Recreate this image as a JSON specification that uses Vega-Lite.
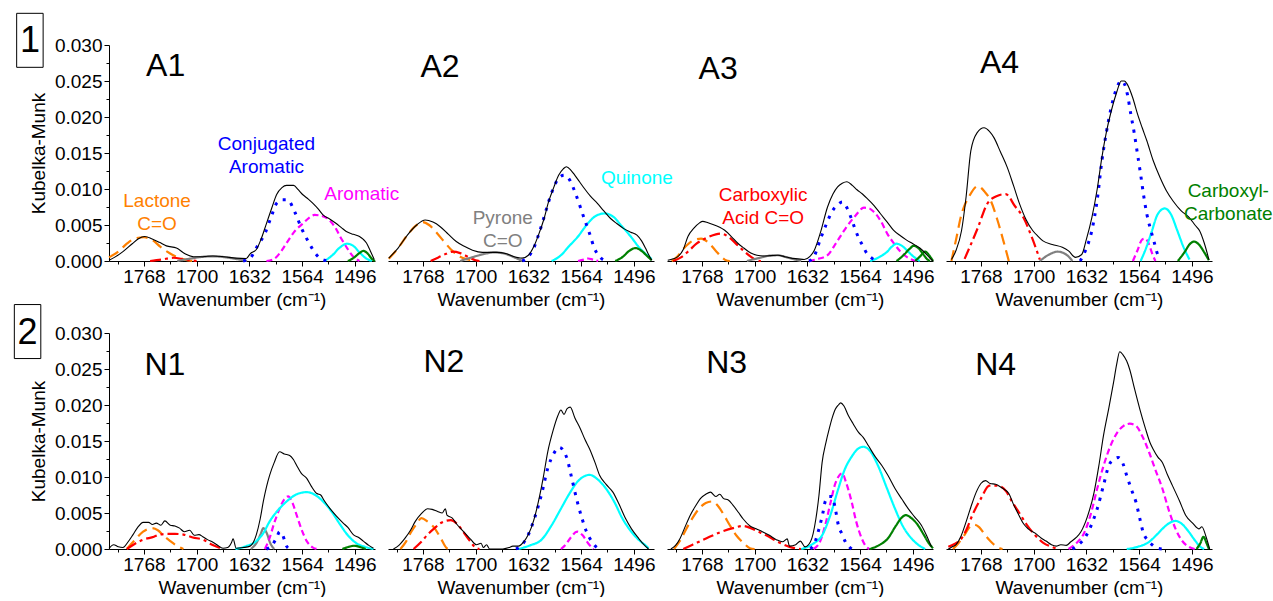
{
"$schema":"https://vega.github.io/schema/vega-lite/v6.json",
"padding":{"left":12,"top":10,"right":0,"bottom":0},
"autosize":{"type":"pad"},
"data":{"values":[
{"p":"A1","s":"k","x":1813,"y":0.0001},{"p":"A1","s":"k","x":1806,"y":0.0005},{"p":"A1","s":"k","x":1795,"y":0.0013},{"p":"A1","s":"k","x":1783,"y":0.0024},{"p":"A1","s":"k","x":1775,"y":0.0031},{"p":"A1","s":"k","x":1767,"y":0.0034},{"p":"A1","s":"k","x":1758,"y":0.0031},{"p":"A1","s":"k","x":1748,"y":0.0026},{"p":"A1","s":"k","x":1739,"y":0.0021},{"p":"A1","s":"k","x":1726,"y":0.0018},{"p":"A1","s":"k","x":1715,"y":0.001},{"p":"A1","s":"k","x":1704,"y":0.0006},{"p":"A1","s":"k","x":1692,"y":0.0006},{"p":"A1","s":"k","x":1679,"y":0.0007},{"p":"A1","s":"k","x":1665,"y":0.0006},{"p":"A1","s":"k","x":1649,"y":0.0004},{"p":"A1","s":"k","x":1636,"y":0.00035},{"p":"A1","s":"k","x":1631,"y":0.001},{"p":"A1","s":"k","x":1623,"y":0.0016},{"p":"A1","s":"k","x":1617,"y":0.003},{"p":"A1","s":"k","x":1610,"y":0.0052},{"p":"A1","s":"k","x":1603,"y":0.0074},{"p":"A1","s":"k","x":1597,"y":0.0092},{"p":"A1","s":"k","x":1590,"y":0.0102},{"p":"A1","s":"k","x":1584,"y":0.0105},{"p":"A1","s":"k","x":1575,"y":0.0105},{"p":"A1","s":"k","x":1569,"y":0.0099},{"p":"A1","s":"k","x":1563,"y":0.0092},{"p":"A1","s":"k","x":1556,"y":0.0086},{"p":"A1","s":"k","x":1550,"y":0.008},{"p":"A1","s":"k","x":1543,"y":0.0072},{"p":"A1","s":"k","x":1537,"y":0.0064},{"p":"A1","s":"k","x":1528,"y":0.0058},{"p":"A1","s":"k","x":1520,"y":0.0052},{"p":"A1","s":"k","x":1513,"y":0.0046},{"p":"A1","s":"k","x":1507,"y":0.0041},{"p":"A1","s":"k","x":1498,"y":0.0037},{"p":"A1","s":"k","x":1490,"y":0.0034},{"p":"A1","s":"k","x":1485,"y":0.003},{"p":"A1","s":"k","x":1481,"y":0.0025},{"p":"A1","s":"k","x":1476,"y":0.0014},{"p":"A1","s":"k","x":1471,"y":0.0002},
{"p":"A1","s":"o","x":1813,"y":0.0005},{"p":"A1","s":"o","x":1800,"y":0.0014},{"p":"A1","s":"o","x":1790,"y":0.0024},{"p":"A1","s":"o","x":1780,"y":0.0031},{"p":"A1","s":"o","x":1768,"y":0.0033},{"p":"A1","s":"o","x":1757,"y":0.0029},{"p":"A1","s":"o","x":1747,"y":0.002},{"p":"A1","s":"o","x":1738,"y":0.0013},{"p":"A1","s":"o","x":1732,"y":0.0009},{"p":"A1","s":"o","x":1715,"y":0.0002},{"p":"A1","s":"o","x":1705,"y":0},
{"p":"A1","s":"r","x":1760,"y":0},{"p":"A1","s":"r","x":1745,"y":0.0002},{"p":"A1","s":"r","x":1730,"y":0.00045},{"p":"A1","s":"r","x":1715,"y":0.0002},{"p":"A1","s":"r","x":1700,"y":0},
{"p":"A1","s":"y","x":1725,"y":0},{"p":"A1","s":"y","x":1710,"y":0.0003},{"p":"A1","s":"y","x":1695,"y":0.00055},{"p":"A1","s":"y","x":1680,"y":0.00065},{"p":"A1","s":"y","x":1665,"y":0.00055},{"p":"A1","s":"y","x":1650,"y":0.0003},{"p":"A1","s":"y","x":1635,"y":0},
{"p":"A1","s":"b","x":1640,"y":0},{"p":"A1","s":"b","x":1631,"y":0.0004},{"p":"A1","s":"b","x":1621,"y":0.0022},{"p":"A1","s":"b","x":1612,"y":0.0038},{"p":"A1","s":"b","x":1603,"y":0.0064},{"p":"A1","s":"b","x":1597,"y":0.008},{"p":"A1","s":"b","x":1589,"y":0.0085},{"p":"A1","s":"b","x":1583,"y":0.0085},{"p":"A1","s":"b","x":1573,"y":0.0067},{"p":"A1","s":"b","x":1565,"y":0.0046},{"p":"A1","s":"b","x":1556,"y":0.0027},{"p":"A1","s":"b","x":1545,"y":0.0008},{"p":"A1","s":"b","x":1535,"y":0.0001},{"p":"A1","s":"b","x":1525,"y":0},
{"p":"A1","s":"m","x":1610,"y":0},{"p":"A1","s":"m","x":1600,"y":0.0003},{"p":"A1","s":"m","x":1590,"y":0.0015},{"p":"A1","s":"m","x":1584,"y":0.0025},{"p":"A1","s":"m","x":1573,"y":0.0042},{"p":"A1","s":"m","x":1563,"y":0.0052},{"p":"A1","s":"m","x":1555,"y":0.006},{"p":"A1","s":"m","x":1548,"y":0.0064},{"p":"A1","s":"m","x":1540,"y":0.0063},{"p":"A1","s":"m","x":1529,"y":0.0057},{"p":"A1","s":"m","x":1521,"y":0.0046},{"p":"A1","s":"m","x":1515,"y":0.0034},{"p":"A1","s":"m","x":1506,"y":0.0018},{"p":"A1","s":"m","x":1498,"y":0.0006},{"p":"A1","s":"m","x":1490,"y":0},
{"p":"A1","s":"c","x":1535,"y":0},{"p":"A1","s":"c","x":1525,"y":0.0008},{"p":"A1","s":"c","x":1515,"y":0.0019},{"p":"A1","s":"c","x":1506,"y":0.0024},{"p":"A1","s":"c","x":1498,"y":0.0021},{"p":"A1","s":"c","x":1490,"y":0.0012},{"p":"A1","s":"c","x":1482,"y":0.0004},{"p":"A1","s":"c","x":1474,"y":0},
{"p":"A1","s":"g","x":1505,"y":0},{"p":"A1","s":"g","x":1498,"y":0.0004},{"p":"A1","s":"g","x":1490,"y":0.0011},{"p":"A1","s":"g","x":1485,"y":0.0014},{"p":"A1","s":"g","x":1480,"y":0.0011},{"p":"A1","s":"g","x":1474,"y":0.0003},{"p":"A1","s":"g","x":1470,"y":0},
{"p":"A2","s":"k","x":1812,"y":0.0004},{"p":"A2","s":"k","x":1800,"y":0.0018},{"p":"A2","s":"k","x":1788,"y":0.0036},{"p":"A2","s":"k","x":1776,"y":0.005},{"p":"A2","s":"k","x":1765,"y":0.0057},{"p":"A2","s":"k","x":1755,"y":0.0054},{"p":"A2","s":"k","x":1746,"y":0.0048},{"p":"A2","s":"k","x":1735,"y":0.0037},{"p":"A2","s":"k","x":1725,"y":0.0027},{"p":"A2","s":"k","x":1714,"y":0.002},{"p":"A2","s":"k","x":1704,"y":0.0015},{"p":"A2","s":"k","x":1691,"y":0.0012},{"p":"A2","s":"k","x":1674,"y":0.0012},{"p":"A2","s":"k","x":1660,"y":0.001},{"p":"A2","s":"k","x":1653,"y":0.0007},{"p":"A2","s":"k","x":1640,"y":0.0004},{"p":"A2","s":"k","x":1632,"y":0.0008},{"p":"A2","s":"k","x":1625,"y":0.002},{"p":"A2","s":"k","x":1619,"y":0.0036},{"p":"A2","s":"k","x":1612,"y":0.0058},{"p":"A2","s":"k","x":1606,"y":0.0082},{"p":"A2","s":"k","x":1599,"y":0.0103},{"p":"A2","s":"k","x":1593,"y":0.0119},{"p":"A2","s":"k","x":1587,"y":0.0128},{"p":"A2","s":"k","x":1583,"y":0.0131},{"p":"A2","s":"k","x":1577,"y":0.0126},{"p":"A2","s":"k","x":1572,"y":0.0119},{"p":"A2","s":"k","x":1566,"y":0.011},{"p":"A2","s":"k","x":1560,"y":0.0101},{"p":"A2","s":"k","x":1552,"y":0.009},{"p":"A2","s":"k","x":1543,"y":0.008},{"p":"A2","s":"k","x":1535,"y":0.007},{"p":"A2","s":"k","x":1526,"y":0.0059},{"p":"A2","s":"k","x":1518,"y":0.0052},{"p":"A2","s":"k","x":1509,"y":0.0045},{"p":"A2","s":"k","x":1500,"y":0.004},{"p":"A2","s":"k","x":1492,"y":0.0036},{"p":"A2","s":"k","x":1486,"y":0.0028},{"p":"A2","s":"k","x":1481,"y":0.0018},{"p":"A2","s":"k","x":1477,"y":0.0009},{"p":"A2","s":"k","x":1473,"y":0.0001},
{"p":"A2","s":"o","x":1812,"y":0.0003},{"p":"A2","s":"o","x":1800,"y":0.0018},{"p":"A2","s":"o","x":1788,"y":0.0036},{"p":"A2","s":"o","x":1776,"y":0.005},{"p":"A2","s":"o","x":1768,"y":0.0054},{"p":"A2","s":"o","x":1760,"y":0.005},{"p":"A2","s":"o","x":1750,"y":0.0039},{"p":"A2","s":"o","x":1740,"y":0.0026},{"p":"A2","s":"o","x":1730,"y":0.0014},{"p":"A2","s":"o","x":1720,"y":0.0006},{"p":"A2","s":"o","x":1710,"y":0.0002},{"p":"A2","s":"o","x":1703,"y":0},
{"p":"A2","s":"r","x":1758,"y":0},{"p":"A2","s":"r","x":1748,"y":0.0005},{"p":"A2","s":"r","x":1738,"y":0.001},{"p":"A2","s":"r","x":1729,"y":0.0013},{"p":"A2","s":"r","x":1720,"y":0.0011},{"p":"A2","s":"r","x":1710,"y":0.0006},{"p":"A2","s":"r","x":1700,"y":0.0001},{"p":"A2","s":"r","x":1695,"y":0},
{"p":"A2","s":"y","x":1720,"y":0},{"p":"A2","s":"y","x":1705,"y":0.0005},{"p":"A2","s":"y","x":1690,"y":0.00095},{"p":"A2","s":"y","x":1676,"y":0.0012},{"p":"A2","s":"y","x":1662,"y":0.001},{"p":"A2","s":"y","x":1650,"y":0.0005},{"p":"A2","s":"y","x":1640,"y":0},
{"p":"A2","s":"b","x":1640,"y":0},{"p":"A2","s":"b","x":1632,"y":0.0006},{"p":"A2","s":"b","x":1625,"y":0.0018},{"p":"A2","s":"b","x":1619,"y":0.0036},{"p":"A2","s":"b","x":1612,"y":0.006},{"p":"A2","s":"b","x":1606,"y":0.0082},{"p":"A2","s":"b","x":1599,"y":0.0103},{"p":"A2","s":"b","x":1593,"y":0.0115},{"p":"A2","s":"b","x":1586,"y":0.0119},{"p":"A2","s":"b","x":1579,"y":0.0113},{"p":"A2","s":"b","x":1572,"y":0.0096},{"p":"A2","s":"b","x":1566,"y":0.0078},{"p":"A2","s":"b","x":1560,"y":0.0059},{"p":"A2","s":"b","x":1553,"y":0.0038},{"p":"A2","s":"b","x":1547,"y":0.0018},{"p":"A2","s":"b","x":1540,"y":0.0006},{"p":"A2","s":"b","x":1534,"y":0.0001},{"p":"A2","s":"b","x":1528,"y":0},
{"p":"A2","s":"m","x":1568,"y":0},{"p":"A2","s":"m","x":1560,"y":0.0002},{"p":"A2","s":"m","x":1555,"y":0.00035},{"p":"A2","s":"m","x":1549,"y":0.0002},{"p":"A2","s":"m","x":1542,"y":0},
{"p":"A2","s":"c","x":1602,"y":0},{"p":"A2","s":"c","x":1590,"y":0.0008},{"p":"A2","s":"c","x":1580,"y":0.002},{"p":"A2","s":"c","x":1568,"y":0.0034},{"p":"A2","s":"c","x":1557,"y":0.005},{"p":"A2","s":"c","x":1546,"y":0.0062},{"p":"A2","s":"c","x":1534,"y":0.0066},{"p":"A2","s":"c","x":1522,"y":0.0061},{"p":"A2","s":"c","x":1512,"y":0.0049},{"p":"A2","s":"c","x":1500,"y":0.0034},{"p":"A2","s":"c","x":1490,"y":0.002},{"p":"A2","s":"c","x":1481,"y":0.001},{"p":"A2","s":"c","x":1473,"y":0.0003},
{"p":"A2","s":"g","x":1520,"y":0},{"p":"A2","s":"g","x":1510,"y":0.0006},{"p":"A2","s":"g","x":1502,"y":0.0014},{"p":"A2","s":"g","x":1494,"y":0.0018},{"p":"A2","s":"g","x":1486,"y":0.0014},{"p":"A2","s":"g","x":1479,"y":0.0007},{"p":"A2","s":"g","x":1473,"y":0.0001},
{"p":"A3","s":"k","x":1812,"y":0.0001},{"p":"A3","s":"k","x":1805,"y":0.0003},{"p":"A3","s":"k","x":1799,"y":0.0006},{"p":"A3","s":"k","x":1792,"y":0.0016},{"p":"A3","s":"k","x":1786,"y":0.0034},{"p":"A3","s":"k","x":1778,"y":0.0046},{"p":"A3","s":"k","x":1771,"y":0.0053},{"p":"A3","s":"k","x":1767,"y":0.0055},{"p":"A3","s":"k","x":1760,"y":0.0053},{"p":"A3","s":"k","x":1752,"y":0.005},{"p":"A3","s":"k","x":1745,"y":0.0047},{"p":"A3","s":"k","x":1739,"y":0.0043},{"p":"A3","s":"k","x":1730,"y":0.0034},{"p":"A3","s":"k","x":1722,"y":0.0025},{"p":"A3","s":"k","x":1714,"y":0.0018},{"p":"A3","s":"k","x":1705,"y":0.0011},{"p":"A3","s":"k","x":1697,"y":0.0008},{"p":"A3","s":"k","x":1688,"y":0.0007},{"p":"A3","s":"k","x":1679,"y":0.00075},{"p":"A3","s":"k","x":1670,"y":0.0008},{"p":"A3","s":"k","x":1661,"y":0.0006},{"p":"A3","s":"k","x":1653,"y":0.0004},{"p":"A3","s":"k","x":1644,"y":0.0003},{"p":"A3","s":"k","x":1636,"y":0.0002},{"p":"A3","s":"k","x":1629,"y":0.0006},{"p":"A3","s":"k","x":1623,"y":0.0015},{"p":"A3","s":"k","x":1615,"y":0.004},{"p":"A3","s":"k","x":1606,"y":0.0075},{"p":"A3","s":"k","x":1599,"y":0.0093},{"p":"A3","s":"k","x":1593,"y":0.0103},{"p":"A3","s":"k","x":1587,"y":0.0108},{"p":"A3","s":"k","x":1581,"y":0.011},{"p":"A3","s":"k","x":1574,"y":0.0105},{"p":"A3","s":"k","x":1568,"y":0.0099},{"p":"A3","s":"k","x":1561,"y":0.0093},{"p":"A3","s":"k","x":1555,"y":0.0087},{"p":"A3","s":"k","x":1546,"y":0.0077},{"p":"A3","s":"k","x":1538,"y":0.0066},{"p":"A3","s":"k","x":1529,"y":0.0054},{"p":"A3","s":"k","x":1521,"y":0.0043},{"p":"A3","s":"k","x":1512,"y":0.0035},{"p":"A3","s":"k","x":1504,"y":0.0029},{"p":"A3","s":"k","x":1496,"y":0.0024},{"p":"A3","s":"k","x":1487,"y":0.0018},{"p":"A3","s":"k","x":1480,"y":0.0011},{"p":"A3","s":"k","x":1474,"y":0.0004},{"p":"A3","s":"k","x":1470,"y":0},
{"p":"A3","s":"o","x":1807,"y":0},{"p":"A3","s":"o","x":1800,"y":0.0006},{"p":"A3","s":"o","x":1790,"y":0.0019},{"p":"A3","s":"o","x":1780,"y":0.0028},{"p":"A3","s":"o","x":1769,"y":0.0031},{"p":"A3","s":"o","x":1760,"y":0.0026},{"p":"A3","s":"o","x":1750,"y":0.0014},{"p":"A3","s":"o","x":1742,"y":0.0005},{"p":"A3","s":"o","x":1737,"y":0.0001},{"p":"A3","s":"o","x":1732,"y":0},
{"p":"A3","s":"r","x":1805,"y":0},{"p":"A3","s":"r","x":1795,"y":0.0005},{"p":"A3","s":"r","x":1785,"y":0.0014},{"p":"A3","s":"r","x":1775,"y":0.0024},{"p":"A3","s":"r","x":1762,"y":0.0032},{"p":"A3","s":"r","x":1750,"y":0.0037},{"p":"A3","s":"r","x":1743,"y":0.0038},{"p":"A3","s":"r","x":1733,"y":0.0033},{"p":"A3","s":"r","x":1722,"y":0.0022},{"p":"A3","s":"r","x":1713,"y":0.0013},{"p":"A3","s":"r","x":1705,"y":0.0006},{"p":"A3","s":"r","x":1698,"y":0.0001},{"p":"A3","s":"r","x":1692,"y":0},
{"p":"A3","s":"y","x":1710,"y":0},{"p":"A3","s":"y","x":1695,"y":0.0004},{"p":"A3","s":"y","x":1680,"y":0.00075},{"p":"A3","s":"y","x":1670,"y":0.0008},{"p":"A3","s":"y","x":1660,"y":0.00055},{"p":"A3","s":"y","x":1648,"y":0.0002},{"p":"A3","s":"y","x":1640,"y":0},
{"p":"A3","s":"b","x":1630,"y":0},{"p":"A3","s":"b","x":1624,"y":0.0005},{"p":"A3","s":"b","x":1615,"y":0.0031},{"p":"A3","s":"b","x":1608,"y":0.005},{"p":"A3","s":"b","x":1600,"y":0.0069},{"p":"A3","s":"b","x":1593,"y":0.0078},{"p":"A3","s":"b","x":1587,"y":0.0082},{"p":"A3","s":"b","x":1581,"y":0.0074},{"p":"A3","s":"b","x":1576,"y":0.0061},{"p":"A3","s":"b","x":1570,"y":0.0043},{"p":"A3","s":"b","x":1565,"y":0.003},{"p":"A3","s":"b","x":1561,"y":0.0022},{"p":"A3","s":"b","x":1555,"y":0.001},{"p":"A3","s":"b","x":1549,"y":0.0004},{"p":"A3","s":"b","x":1543,"y":0},
{"p":"A3","s":"m","x":1630,"y":0},{"p":"A3","s":"m","x":1618,"y":0.0003},{"p":"A3","s":"m","x":1606,"y":0.0008},{"p":"A3","s":"m","x":1595,"y":0.0025},{"p":"A3","s":"m","x":1586,"y":0.004},{"p":"A3","s":"m","x":1581,"y":0.0048},{"p":"A3","s":"m","x":1570,"y":0.0063},{"p":"A3","s":"m","x":1559,"y":0.0074},{"p":"A3","s":"m","x":1552,"y":0.0073},{"p":"A3","s":"m","x":1546,"y":0.0068},{"p":"A3","s":"m","x":1537,"y":0.0055},{"p":"A3","s":"m","x":1529,"y":0.0038},{"p":"A3","s":"m","x":1520,"y":0.0024},{"p":"A3","s":"m","x":1512,"y":0.0013},{"p":"A3","s":"m","x":1503,"y":0.0005},{"p":"A3","s":"m","x":1495,"y":0.0001},{"p":"A3","s":"m","x":1490,"y":0},
{"p":"A3","s":"c","x":1551,"y":0},{"p":"A3","s":"c","x":1540,"y":0.0005},{"p":"A3","s":"c","x":1529,"y":0.0013},{"p":"A3","s":"c","x":1523,"y":0.002},{"p":"A3","s":"c","x":1517,"y":0.0024},{"p":"A3","s":"c","x":1510,"y":0.0021},{"p":"A3","s":"c","x":1502,"y":0.0013},{"p":"A3","s":"c","x":1495,"y":0.0006},{"p":"A3","s":"c","x":1487,"y":0},
{"p":"A3","s":"g","x":1517,"y":0},{"p":"A3","s":"g","x":1508,"y":0.0008},{"p":"A3","s":"g","x":1500,"y":0.0017},{"p":"A3","s":"g","x":1495,"y":0.0021},{"p":"A3","s":"g","x":1489,"y":0.0018},{"p":"A3","s":"g","x":1483,"y":0.001},{"p":"A3","s":"g","x":1478,"y":0.0003},{"p":"A3","s":"g","x":1474,"y":0},
{"p":"A3","s":"h","x":1493,"y":0},{"p":"A3","s":"h","x":1487,"y":0.0006},{"p":"A3","s":"h","x":1480,"y":0.0013},{"p":"A3","s":"h","x":1475,"y":0.0008},{"p":"A3","s":"h","x":1470,"y":0},
{"p":"A4","s":"k","x":1806,"y":0.0002},{"p":"A4","s":"k","x":1800,"y":0.0015},{"p":"A4","s":"k","x":1793,"y":0.0042},{"p":"A4","s":"k","x":1787,"y":0.009},{"p":"A4","s":"k","x":1781,"y":0.0153},{"p":"A4","s":"k","x":1773,"y":0.0178},{"p":"A4","s":"k","x":1764,"y":0.0185},{"p":"A4","s":"k","x":1757,"y":0.018},{"p":"A4","s":"k","x":1751,"y":0.0171},{"p":"A4","s":"k","x":1743,"y":0.0152},{"p":"A4","s":"k","x":1734,"y":0.013},{"p":"A4","s":"k","x":1726,"y":0.0105},{"p":"A4","s":"k","x":1718,"y":0.0079},{"p":"A4","s":"k","x":1710,"y":0.0058},{"p":"A4","s":"k","x":1701,"y":0.0042},{"p":"A4","s":"k","x":1694,"y":0.0034},{"p":"A4","s":"k","x":1688,"y":0.0028},{"p":"A4","s":"k","x":1676,"y":0.0023},{"p":"A4","s":"k","x":1663,"y":0.0019},{"p":"A4","s":"k","x":1655,"y":0.0014},{"p":"A4","s":"k","x":1646,"y":0.0005},{"p":"A4","s":"k","x":1638,"y":0.0009},{"p":"A4","s":"k","x":1632,"y":0.003},{"p":"A4","s":"k","x":1625,"y":0.006},{"p":"A4","s":"k","x":1618,"y":0.01},{"p":"A4","s":"k","x":1612,"y":0.0144},{"p":"A4","s":"k","x":1606,"y":0.018},{"p":"A4","s":"k","x":1600,"y":0.0208},{"p":"A4","s":"k","x":1593,"y":0.0234},{"p":"A4","s":"k","x":1587,"y":0.025},{"p":"A4","s":"k","x":1583,"y":0.025},{"p":"A4","s":"k","x":1579,"y":0.0245},{"p":"A4","s":"k","x":1572,"y":0.0226},{"p":"A4","s":"k","x":1566,"y":0.0204},{"p":"A4","s":"k","x":1560,"y":0.0185},{"p":"A4","s":"k","x":1554,"y":0.0167},{"p":"A4","s":"k","x":1546,"y":0.014},{"p":"A4","s":"k","x":1537,"y":0.0116},{"p":"A4","s":"k","x":1529,"y":0.0098},{"p":"A4","s":"k","x":1520,"y":0.0083},{"p":"A4","s":"k","x":1510,"y":0.007},{"p":"A4","s":"k","x":1499,"y":0.006},{"p":"A4","s":"k","x":1492,"y":0.005},{"p":"A4","s":"k","x":1486,"y":0.0042},{"p":"A4","s":"k","x":1480,"y":0.0025},{"p":"A4","s":"k","x":1474,"y":0.0002},
{"p":"A4","s":"o","x":1806,"y":0},{"p":"A4","s":"o","x":1800,"y":0.003},{"p":"A4","s":"o","x":1793,"y":0.0065},{"p":"A4","s":"o","x":1783,"y":0.009},{"p":"A4","s":"o","x":1772,"y":0.0104},{"p":"A4","s":"o","x":1763,"y":0.0096},{"p":"A4","s":"o","x":1755,"y":0.0083},{"p":"A4","s":"o","x":1747,"y":0.0058},{"p":"A4","s":"o","x":1739,"y":0.0028},{"p":"A4","s":"o","x":1732,"y":0},
{"p":"A4","s":"r","x":1789,"y":0.0003},{"p":"A4","s":"r","x":1772,"y":0.0046},{"p":"A4","s":"r","x":1760,"y":0.0079},{"p":"A4","s":"r","x":1748,"y":0.009},{"p":"A4","s":"r","x":1736,"y":0.0093},{"p":"A4","s":"r","x":1724,"y":0.0076},{"p":"A4","s":"r","x":1713,"y":0.006},{"p":"A4","s":"r","x":1702,"y":0.0032},{"p":"A4","s":"r","x":1692,"y":0.0002},
{"p":"A4","s":"y","x":1692,"y":0},{"p":"A4","s":"y","x":1680,"y":0.0009},{"p":"A4","s":"y","x":1669,"y":0.0013},{"p":"A4","s":"y","x":1658,"y":0.0009},{"p":"A4","s":"y","x":1650,"y":0},
{"p":"A4","s":"b","x":1640,"y":0},{"p":"A4","s":"b","x":1633,"y":0.0015},{"p":"A4","s":"b","x":1625,"y":0.0042},{"p":"A4","s":"b","x":1618,"y":0.0085},{"p":"A4","s":"b","x":1612,"y":0.0139},{"p":"A4","s":"b","x":1606,"y":0.018},{"p":"A4","s":"b","x":1600,"y":0.0213},{"p":"A4","s":"b","x":1593,"y":0.024},{"p":"A4","s":"b","x":1587,"y":0.025},{"p":"A4","s":"b","x":1583,"y":0.0246},{"p":"A4","s":"b","x":1579,"y":0.0231},{"p":"A4","s":"b","x":1575,"y":0.0206},{"p":"A4","s":"b","x":1570,"y":0.0176},{"p":"A4","s":"b","x":1566,"y":0.0148},{"p":"A4","s":"b","x":1562,"y":0.012},{"p":"A4","s":"b","x":1558,"y":0.009},{"p":"A4","s":"b","x":1554,"y":0.0065},{"p":"A4","s":"b","x":1549,"y":0.0043},{"p":"A4","s":"b","x":1545,"y":0.0028},{"p":"A4","s":"b","x":1541,"y":0.0012},{"p":"A4","s":"b","x":1537,"y":0.0002},
{"p":"A4","s":"m","x":1572,"y":0},{"p":"A4","s":"m","x":1566,"y":0.0015},{"p":"A4","s":"m","x":1560,"y":0.003},{"p":"A4","s":"m","x":1556,"y":0.0031},{"p":"A4","s":"m","x":1552,"y":0.0025},{"p":"A4","s":"m","x":1547,"y":0.001},{"p":"A4","s":"m","x":1543,"y":0},
{"p":"A4","s":"c","x":1562,"y":0},{"p":"A4","s":"c","x":1555,"y":0.0018},{"p":"A4","s":"c","x":1548,"y":0.004},{"p":"A4","s":"c","x":1540,"y":0.0065},{"p":"A4","s":"c","x":1531,"y":0.0073},{"p":"A4","s":"c","x":1523,"y":0.0065},{"p":"A4","s":"c","x":1515,"y":0.0043},{"p":"A4","s":"c","x":1507,"y":0.002},{"p":"A4","s":"c","x":1499,"y":0.0002},
{"p":"A4","s":"g","x":1514,"y":0},{"p":"A4","s":"g","x":1505,"y":0.0013},{"p":"A4","s":"g","x":1499,"y":0.0023},{"p":"A4","s":"g","x":1493,"y":0.0027},{"p":"A4","s":"g","x":1487,"y":0.0023},{"p":"A4","s":"g","x":1480,"y":0.0012},{"p":"A4","s":"g","x":1474,"y":0.0001},
{"p":"N1","s":"k","x":1813,"y":0.0001},{"p":"N1","s":"k","x":1807,"y":0.0006},{"p":"N1","s":"k","x":1801,"y":0.0003},{"p":"N1","s":"k","x":1795,"y":0.0002},{"p":"N1","s":"k","x":1789,"y":0.0009},{"p":"N1","s":"k","x":1782,"y":0.002},{"p":"N1","s":"k","x":1776,"y":0.003},{"p":"N1","s":"k","x":1769,"y":0.0037},{"p":"N1","s":"k","x":1762,"y":0.0037},{"p":"N1","s":"k","x":1757,"y":0.0034},{"p":"N1","s":"k","x":1752,"y":0.0036},{"p":"N1","s":"k","x":1746,"y":0.0033},{"p":"N1","s":"k","x":1741,"y":0.0039},{"p":"N1","s":"k","x":1734,"y":0.0033},{"p":"N1","s":"k","x":1728,"y":0.0032},{"p":"N1","s":"k","x":1722,"y":0.0029},{"p":"N1","s":"k","x":1716,"y":0.0024},{"p":"N1","s":"k","x":1709,"y":0.0026},{"p":"N1","s":"k","x":1703,"y":0.0019},{"p":"N1","s":"k","x":1697,"y":0.002},{"p":"N1","s":"k","x":1692,"y":0.0017},{"p":"N1","s":"k","x":1686,"y":0.0013},{"p":"N1","s":"k","x":1680,"y":0.001},{"p":"N1","s":"k","x":1674,"y":0.0006},{"p":"N1","s":"k","x":1666,"y":0.0001},{"p":"N1","s":"k","x":1660,"y":0.0002},{"p":"N1","s":"k","x":1655,"y":0.0009},{"p":"N1","s":"k","x":1653,"y":0.0014},{"p":"N1","s":"k","x":1649,"y":0.0001},{"p":"N1","s":"k","x":1640,"y":0.0002},{"p":"N1","s":"k","x":1631,"y":0.0004},{"p":"N1","s":"k","x":1627,"y":0.0009},{"p":"N1","s":"k","x":1623,"y":0.002},{"p":"N1","s":"k","x":1618,"y":0.0042},{"p":"N1","s":"k","x":1614,"y":0.0066},{"p":"N1","s":"k","x":1610,"y":0.0086},{"p":"N1","s":"k","x":1606,"y":0.0102},{"p":"N1","s":"k","x":1600,"y":0.012},{"p":"N1","s":"k","x":1593,"y":0.0135},{"p":"N1","s":"k","x":1587,"y":0.0132},{"p":"N1","s":"k","x":1580,"y":0.013},{"p":"N1","s":"k","x":1575,"y":0.0124},{"p":"N1","s":"k","x":1571,"y":0.0116},{"p":"N1","s":"k","x":1565,"y":0.0105},{"p":"N1","s":"k","x":1558,"y":0.0098},{"p":"N1","s":"k","x":1552,"y":0.0087},{"p":"N1","s":"k","x":1545,"y":0.0077},{"p":"N1","s":"k","x":1540,"y":0.0075},{"p":"N1","s":"k","x":1536,"y":0.0068},{"p":"N1","s":"k","x":1528,"y":0.0056},{"p":"N1","s":"k","x":1520,"y":0.0046},{"p":"N1","s":"k","x":1511,"y":0.0036},{"p":"N1","s":"k","x":1505,"y":0.003},{"p":"N1","s":"k","x":1498,"y":0.002},{"p":"N1","s":"k","x":1491,"y":0.0016},{"p":"N1","s":"k","x":1485,"y":0.0011},{"p":"N1","s":"k","x":1478,"y":0.0005},{"p":"N1","s":"k","x":1472,"y":0.0001},
{"p":"N1","s":"o","x":1790,"y":0},{"p":"N1","s":"o","x":1780,"y":0.0012},{"p":"N1","s":"o","x":1769,"y":0.0024},{"p":"N1","s":"o","x":1758,"y":0.0029},{"p":"N1","s":"o","x":1750,"y":0.0026},{"p":"N1","s":"o","x":1742,"y":0.0018},{"p":"N1","s":"o","x":1734,"y":0.0011},{"p":"N1","s":"o","x":1725,"y":0.0004},{"p":"N1","s":"o","x":1717,"y":0},
{"p":"N1","s":"r","x":1790,"y":0},{"p":"N1","s":"r","x":1780,"y":0.0007},{"p":"N1","s":"r","x":1769,"y":0.0013},{"p":"N1","s":"r","x":1755,"y":0.0017},{"p":"N1","s":"r","x":1748,"y":0.002},{"p":"N1","s":"r","x":1738,"y":0.0021},{"p":"N1","s":"r","x":1728,"y":0.0021},{"p":"N1","s":"r","x":1717,"y":0.002},{"p":"N1","s":"r","x":1705,"y":0.0016},{"p":"N1","s":"r","x":1692,"y":0.0013},{"p":"N1","s":"r","x":1680,"y":0.0006},{"p":"N1","s":"r","x":1666,"y":0},
{"p":"N1","s":"y","x":1630,"y":0},{"p":"N1","s":"y","x":1622,"y":0.001},{"p":"N1","s":"y","x":1617,"y":0.0022},{"p":"N1","s":"y","x":1614,"y":0.0029},{"p":"N1","s":"y","x":1610,"y":0.0023},{"p":"N1","s":"y","x":1605,"y":0.0008},{"p":"N1","s":"y","x":1600,"y":0},
{"p":"N1","s":"b","x":1610,"y":0},{"p":"N1","s":"b","x":1602,"y":0.0006},{"p":"N1","s":"b","x":1596,"y":0.0018},{"p":"N1","s":"b","x":1593,"y":0.0024},{"p":"N1","s":"b","x":1589,"y":0.0019},{"p":"N1","s":"b","x":1584,"y":0.0004},{"p":"N1","s":"b","x":1580,"y":0},
{"p":"N1","s":"m","x":1612,"y":0},{"p":"N1","s":"m","x":1606,"y":0.0015},{"p":"N1","s":"m","x":1600,"y":0.0036},{"p":"N1","s":"m","x":1593,"y":0.0056},{"p":"N1","s":"m","x":1587,"y":0.0069},{"p":"N1","s":"m","x":1582,"y":0.0073},{"p":"N1","s":"m","x":1576,"y":0.0063},{"p":"N1","s":"m","x":1571,"y":0.0047},{"p":"N1","s":"m","x":1565,"y":0.0028},{"p":"N1","s":"m","x":1558,"y":0.0011},{"p":"N1","s":"m","x":1550,"y":0.0002},{"p":"N1","s":"m","x":1545,"y":0},
{"p":"N1","s":"c","x":1650,"y":0},{"p":"N1","s":"c","x":1636,"y":0.0004},{"p":"N1","s":"c","x":1623,"y":0.0011},{"p":"N1","s":"c","x":1614,"y":0.0022},{"p":"N1","s":"c","x":1606,"y":0.0038},{"p":"N1","s":"c","x":1595,"y":0.0054},{"p":"N1","s":"c","x":1584,"y":0.0066},{"p":"N1","s":"c","x":1571,"y":0.0076},{"p":"N1","s":"c","x":1558,"y":0.0079},{"p":"N1","s":"c","x":1547,"y":0.0075},{"p":"N1","s":"c","x":1537,"y":0.0066},{"p":"N1","s":"c","x":1526,"y":0.0052},{"p":"N1","s":"c","x":1515,"y":0.0034},{"p":"N1","s":"c","x":1505,"y":0.0019},{"p":"N1","s":"c","x":1494,"y":0.0008},{"p":"N1","s":"c","x":1483,"y":0.0003},{"p":"N1","s":"c","x":1472,"y":0},
{"p":"N1","s":"g","x":1512,"y":0},{"p":"N1","s":"g","x":1504,"y":0.0003},{"p":"N1","s":"g","x":1497,"y":0.00045},{"p":"N1","s":"g","x":1490,"y":0.0003},{"p":"N1","s":"g","x":1482,"y":0},
{"p":"N2","s":"k","x":1806,"y":0},{"p":"N2","s":"k","x":1799,"y":0.0005},{"p":"N2","s":"k","x":1791,"y":0.0015},{"p":"N2","s":"k","x":1784,"y":0.0026},{"p":"N2","s":"k","x":1778,"y":0.0038},{"p":"N2","s":"k","x":1770,"y":0.0049},{"p":"N2","s":"k","x":1762,"y":0.0056},{"p":"N2","s":"k","x":1756,"y":0.0055},{"p":"N2","s":"k","x":1749,"y":0.0052},{"p":"N2","s":"k","x":1743,"y":0.005},{"p":"N2","s":"k","x":1739,"y":0.0056},{"p":"N2","s":"k","x":1737,"y":0.0047},{"p":"N2","s":"k","x":1730,"y":0.0043},{"p":"N2","s":"k","x":1724,"y":0.0034},{"p":"N2","s":"k","x":1718,"y":0.0027},{"p":"N2","s":"k","x":1712,"y":0.002},{"p":"N2","s":"k","x":1706,"y":0.0013},{"p":"N2","s":"k","x":1699,"y":0.0006},{"p":"N2","s":"k","x":1693,"y":0.0008},{"p":"N2","s":"k","x":1690,"y":0.0002},{"p":"N2","s":"k","x":1686,"y":0.0006},{"p":"N2","s":"k","x":1682,"y":0},{"p":"N2","s":"k","x":1665,"y":0},{"p":"N2","s":"k","x":1657,"y":0.0002},{"p":"N2","s":"k","x":1652,"y":0.0004},{"p":"N2","s":"k","x":1645,"y":0.0004},{"p":"N2","s":"k","x":1638,"y":0.001},{"p":"N2","s":"k","x":1632,"y":0.002},{"p":"N2","s":"k","x":1625,"y":0.004},{"p":"N2","s":"k","x":1619,"y":0.0066},{"p":"N2","s":"k","x":1613,"y":0.0098},{"p":"N2","s":"k","x":1607,"y":0.0135},{"p":"N2","s":"k","x":1600,"y":0.0165},{"p":"N2","s":"k","x":1594,"y":0.0185},{"p":"N2","s":"k","x":1590,"y":0.0193},{"p":"N2","s":"k","x":1586,"y":0.0187},{"p":"N2","s":"k","x":1582,"y":0.0195},{"p":"N2","s":"k","x":1578,"y":0.0197},{"p":"N2","s":"k","x":1572,"y":0.0182},{"p":"N2","s":"k","x":1565,"y":0.0167},{"p":"N2","s":"k","x":1559,"y":0.0152},{"p":"N2","s":"k","x":1553,"y":0.0139},{"p":"N2","s":"k","x":1546,"y":0.012},{"p":"N2","s":"k","x":1540,"y":0.0102},{"p":"N2","s":"k","x":1532,"y":0.009},{"p":"N2","s":"k","x":1523,"y":0.0079},{"p":"N2","s":"k","x":1515,"y":0.0062},{"p":"N2","s":"k","x":1507,"y":0.0043},{"p":"N2","s":"k","x":1499,"y":0.0028},{"p":"N2","s":"k","x":1490,"y":0.0015},{"p":"N2","s":"k","x":1483,"y":0.0006},{"p":"N2","s":"k","x":1477,"y":0},
{"p":"N2","s":"o","x":1797,"y":0},{"p":"N2","s":"o","x":1790,"y":0.001},{"p":"N2","s":"o","x":1783,"y":0.0024},{"p":"N2","s":"o","x":1776,"y":0.0035},{"p":"N2","s":"o","x":1770,"y":0.0043},{"p":"N2","s":"o","x":1762,"y":0.0038},{"p":"N2","s":"o","x":1753,"y":0.0029},{"p":"N2","s":"o","x":1745,"y":0.0015},{"p":"N2","s":"o","x":1737,"y":0.0001},{"p":"N2","s":"o","x":1733,"y":0},
{"p":"N2","s":"r","x":1780,"y":0},{"p":"N2","s":"r","x":1770,"y":0.001},{"p":"N2","s":"r","x":1762,"y":0.002},{"p":"N2","s":"r","x":1753,"y":0.0029},{"p":"N2","s":"r","x":1745,"y":0.0036},{"p":"N2","s":"r","x":1732,"y":0.004},{"p":"N2","s":"r","x":1724,"y":0.0035},{"p":"N2","s":"r","x":1716,"y":0.0024},{"p":"N2","s":"r","x":1708,"y":0.0012},{"p":"N2","s":"r","x":1699,"y":0.0001},{"p":"N2","s":"r","x":1695,"y":0},
{"p":"N2","s":"b","x":1648,"y":0},{"p":"N2","s":"b","x":1640,"y":0.0006},{"p":"N2","s":"b","x":1632,"y":0.002},{"p":"N2","s":"b","x":1624,"y":0.0043},{"p":"N2","s":"b","x":1615,"y":0.0076},{"p":"N2","s":"b","x":1607,"y":0.0112},{"p":"N2","s":"b","x":1599,"y":0.0133},{"p":"N2","s":"b","x":1592,"y":0.0141},{"p":"N2","s":"b","x":1587,"y":0.0137},{"p":"N2","s":"b","x":1582,"y":0.0125},{"p":"N2","s":"b","x":1576,"y":0.0098},{"p":"N2","s":"b","x":1569,"y":0.0066},{"p":"N2","s":"b","x":1563,"y":0.0043},{"p":"N2","s":"b","x":1557,"y":0.0024},{"p":"N2","s":"b","x":1550,"y":0.001},{"p":"N2","s":"b","x":1542,"y":0.0001},{"p":"N2","s":"b","x":1538,"y":0},
{"p":"N2","s":"m","x":1590,"y":0},{"p":"N2","s":"m","x":1584,"y":0.0006},{"p":"N2","s":"m","x":1578,"y":0.0015},{"p":"N2","s":"m","x":1569,"y":0.0024},{"p":"N2","s":"m","x":1562,"y":0.0019},{"p":"N2","s":"m","x":1555,"y":0.0008},{"p":"N2","s":"m","x":1548,"y":0},
{"p":"N2","s":"c","x":1645,"y":0},{"p":"N2","s":"c","x":1630,"y":0.0005},{"p":"N2","s":"c","x":1615,"y":0.0013},{"p":"N2","s":"c","x":1602,"y":0.0033},{"p":"N2","s":"c","x":1590,"y":0.0056},{"p":"N2","s":"c","x":1579,"y":0.0077},{"p":"N2","s":"c","x":1569,"y":0.0093},{"p":"N2","s":"c","x":1560,"y":0.0101},{"p":"N2","s":"c","x":1553,"y":0.0103},{"p":"N2","s":"c","x":1543,"y":0.0097},{"p":"N2","s":"c","x":1532,"y":0.0084},{"p":"N2","s":"c","x":1521,"y":0.0065},{"p":"N2","s":"c","x":1511,"y":0.0043},{"p":"N2","s":"c","x":1500,"y":0.0025},{"p":"N2","s":"c","x":1490,"y":0.0013},{"p":"N2","s":"c","x":1481,"y":0.0005},{"p":"N2","s":"c","x":1477,"y":0.0001},
{"p":"N3","s":"k","x":1808,"y":0},{"p":"N3","s":"k","x":1802,"y":0.0005},{"p":"N3","s":"k","x":1796,"y":0.0015},{"p":"N3","s":"k","x":1790,"y":0.003},{"p":"N3","s":"k","x":1783,"y":0.0047},{"p":"N3","s":"k","x":1776,"y":0.006},{"p":"N3","s":"k","x":1770,"y":0.007},{"p":"N3","s":"k","x":1763,"y":0.0076},{"p":"N3","s":"k","x":1757,"y":0.0079},{"p":"N3","s":"k","x":1750,"y":0.0073},{"p":"N3","s":"k","x":1745,"y":0.0076},{"p":"N3","s":"k","x":1740,"y":0.007},{"p":"N3","s":"k","x":1734,"y":0.0068},{"p":"N3","s":"k","x":1728,"y":0.0061},{"p":"N3","s":"k","x":1721,"y":0.0051},{"p":"N3","s":"k","x":1715,"y":0.0042},{"p":"N3","s":"k","x":1706,"y":0.0032},{"p":"N3","s":"k","x":1698,"y":0.0028},{"p":"N3","s":"k","x":1690,"y":0.0024},{"p":"N3","s":"k","x":1681,"y":0.0019},{"p":"N3","s":"k","x":1672,"y":0.0013},{"p":"N3","s":"k","x":1664,"y":0.001},{"p":"N3","s":"k","x":1658,"y":0.0014},{"p":"N3","s":"k","x":1655,"y":0.0004},{"p":"N3","s":"k","x":1647,"y":0.0006},{"p":"N3","s":"k","x":1641,"y":0.0011},{"p":"N3","s":"k","x":1635,"y":0.0003},{"p":"N3","s":"k","x":1628,"y":0.001},{"p":"N3","s":"k","x":1621,"y":0.0042},{"p":"N3","s":"k","x":1617,"y":0.0075},{"p":"N3","s":"k","x":1613,"y":0.012},{"p":"N3","s":"k","x":1608,"y":0.0148},{"p":"N3","s":"k","x":1604,"y":0.0166},{"p":"N3","s":"k","x":1600,"y":0.0182},{"p":"N3","s":"k","x":1596,"y":0.0194},{"p":"N3","s":"k","x":1592,"y":0.02},{"p":"N3","s":"k","x":1589,"y":0.0203},{"p":"N3","s":"k","x":1585,"y":0.0199},{"p":"N3","s":"k","x":1579,"y":0.0185},{"p":"N3","s":"k","x":1573,"y":0.0174},{"p":"N3","s":"k","x":1566,"y":0.0162},{"p":"N3","s":"k","x":1560,"y":0.0155},{"p":"N3","s":"k","x":1553,"y":0.0143},{"p":"N3","s":"k","x":1545,"y":0.0129},{"p":"N3","s":"k","x":1536,"y":0.0116},{"p":"N3","s":"k","x":1528,"y":0.0102},{"p":"N3","s":"k","x":1519,"y":0.0084},{"p":"N3","s":"k","x":1510,"y":0.0069},{"p":"N3","s":"k","x":1502,"y":0.0056},{"p":"N3","s":"k","x":1494,"y":0.0045},{"p":"N3","s":"k","x":1485,"y":0.0033},{"p":"N3","s":"k","x":1478,"y":0.0018},{"p":"N3","s":"k","x":1472,"y":0.0003},
{"p":"N3","s":"o","x":1804,"y":0},{"p":"N3","s":"o","x":1796,"y":0.0012},{"p":"N3","s":"o","x":1783,"y":0.0038},{"p":"N3","s":"o","x":1770,"y":0.0058},{"p":"N3","s":"o","x":1763,"y":0.0064},{"p":"N3","s":"o","x":1755,"y":0.0066},{"p":"N3","s":"o","x":1746,"y":0.0058},{"p":"N3","s":"o","x":1739,"y":0.0046},{"p":"N3","s":"o","x":1732,"y":0.0033},{"p":"N3","s":"o","x":1723,"y":0.0018},{"p":"N3","s":"o","x":1714,"y":0.0008},{"p":"N3","s":"o","x":1706,"y":0.0001},{"p":"N3","s":"o","x":1700,"y":0},
{"p":"N3","s":"r","x":1792,"y":0},{"p":"N3","s":"r","x":1780,"y":0.0006},{"p":"N3","s":"r","x":1762,"y":0.0015},{"p":"N3","s":"r","x":1745,"y":0.0023},{"p":"N3","s":"r","x":1728,"y":0.0029},{"p":"N3","s":"r","x":1715,"y":0.0032},{"p":"N3","s":"r","x":1705,"y":0.0029},{"p":"N3","s":"r","x":1695,"y":0.0024},{"p":"N3","s":"r","x":1685,"y":0.0019},{"p":"N3","s":"r","x":1670,"y":0.001},{"p":"N3","s":"r","x":1655,"y":0.0003},{"p":"N3","s":"r","x":1640,"y":0},
{"p":"N3","s":"b","x":1628,"y":0},{"p":"N3","s":"b","x":1622,"y":0.001},{"p":"N3","s":"b","x":1617,"y":0.0028},{"p":"N3","s":"b","x":1612,"y":0.005},{"p":"N3","s":"b","x":1609,"y":0.0066},{"p":"N3","s":"b","x":1604,"y":0.0073},{"p":"N3","s":"b","x":1600,"y":0.0073},{"p":"N3","s":"b","x":1596,"y":0.0056},{"p":"N3","s":"b","x":1592,"y":0.0033},{"p":"N3","s":"b","x":1587,"y":0.002},{"p":"N3","s":"b","x":1583,"y":0.001},{"p":"N3","s":"b","x":1578,"y":0.0003},{"p":"N3","s":"b","x":1575,"y":0},
{"p":"N3","s":"m","x":1624,"y":0},{"p":"N3","s":"m","x":1615,"y":0.0012},{"p":"N3","s":"m","x":1609,"y":0.0033},{"p":"N3","s":"m","x":1602,"y":0.0065},{"p":"N3","s":"m","x":1596,"y":0.0091},{"p":"N3","s":"m","x":1591,"y":0.0102},{"p":"N3","s":"m","x":1587,"y":0.0105},{"p":"N3","s":"m","x":1582,"y":0.0092},{"p":"N3","s":"m","x":1575,"y":0.0066},{"p":"N3","s":"m","x":1569,"y":0.0038},{"p":"N3","s":"m","x":1562,"y":0.0015},{"p":"N3","s":"m","x":1556,"y":0.0003},{"p":"N3","s":"m","x":1552,"y":0},
{"p":"N3","s":"c","x":1640,"y":0},{"p":"N3","s":"c","x":1625,"y":0.0007},{"p":"N3","s":"c","x":1613,"y":0.0019},{"p":"N3","s":"c","x":1603,"y":0.0045},{"p":"N3","s":"c","x":1592,"y":0.0084},{"p":"N3","s":"c","x":1584,"y":0.011},{"p":"N3","s":"c","x":1575,"y":0.0128},{"p":"N3","s":"c","x":1567,"y":0.0139},{"p":"N3","s":"c","x":1560,"y":0.0142},{"p":"N3","s":"c","x":1551,"y":0.0136},{"p":"N3","s":"c","x":1541,"y":0.0116},{"p":"N3","s":"c","x":1530,"y":0.0086},{"p":"N3","s":"c","x":1519,"y":0.0056},{"p":"N3","s":"c","x":1509,"y":0.0032},{"p":"N3","s":"c","x":1498,"y":0.0015},{"p":"N3","s":"c","x":1488,"y":0.0005},{"p":"N3","s":"c","x":1480,"y":0},
{"p":"N3","s":"g","x":1552,"y":0},{"p":"N3","s":"g","x":1540,"y":0.0005},{"p":"N3","s":"g","x":1528,"y":0.0015},{"p":"N3","s":"g","x":1518,"y":0.0032},{"p":"N3","s":"g","x":1510,"y":0.0044},{"p":"N3","s":"g","x":1505,"y":0.0047},{"p":"N3","s":"g","x":1498,"y":0.0043},{"p":"N3","s":"g","x":1490,"y":0.0034},{"p":"N3","s":"g","x":1482,"y":0.002},{"p":"N3","s":"g","x":1476,"y":0.0009},{"p":"N3","s":"g","x":1470,"y":0.0001},
{"p":"N4","s":"k","x":1810,"y":0},{"p":"N4","s":"k","x":1805,"y":0.0003},{"p":"N4","s":"k","x":1800,"y":0.0006},{"p":"N4","s":"k","x":1794,"y":0.0017},{"p":"N4","s":"k","x":1787,"y":0.0038},{"p":"N4","s":"k","x":1781,"y":0.0058},{"p":"N4","s":"k","x":1774,"y":0.0079},{"p":"N4","s":"k","x":1768,"y":0.0091},{"p":"N4","s":"k","x":1762,"y":0.0095},{"p":"N4","s":"k","x":1756,"y":0.0091},{"p":"N4","s":"k","x":1749,"y":0.009},{"p":"N4","s":"k","x":1741,"y":0.0085},{"p":"N4","s":"k","x":1732,"y":0.0077},{"p":"N4","s":"k","x":1726,"y":0.0062},{"p":"N4","s":"k","x":1719,"y":0.0047},{"p":"N4","s":"k","x":1713,"y":0.0035},{"p":"N4","s":"k","x":1707,"y":0.0028},{"p":"N4","s":"k","x":1698,"y":0.0022},{"p":"N4","s":"k","x":1690,"y":0.0015},{"p":"N4","s":"k","x":1684,"y":0.0011},{"p":"N4","s":"k","x":1677,"y":0.0006},{"p":"N4","s":"k","x":1671,"y":0.0004},{"p":"N4","s":"k","x":1665,"y":0.0006},{"p":"N4","s":"k","x":1658,"y":0.0005},{"p":"N4","s":"k","x":1652,"y":0.001},{"p":"N4","s":"k","x":1645,"y":0.0016},{"p":"N4","s":"k","x":1639,"y":0.0024},{"p":"N4","s":"k","x":1631,"y":0.0044},{"p":"N4","s":"k","x":1622,"y":0.0079},{"p":"N4","s":"k","x":1616,"y":0.0115},{"p":"N4","s":"k","x":1610,"y":0.0157},{"p":"N4","s":"k","x":1603,"y":0.0196},{"p":"N4","s":"k","x":1597,"y":0.0231},{"p":"N4","s":"k","x":1593,"y":0.0256},{"p":"N4","s":"k","x":1589,"y":0.0274},{"p":"N4","s":"k","x":1585,"y":0.027},{"p":"N4","s":"k","x":1580,"y":0.0261},{"p":"N4","s":"k","x":1576,"y":0.0249},{"p":"N4","s":"k","x":1570,"y":0.0223},{"p":"N4","s":"k","x":1563,"y":0.0194},{"p":"N4","s":"k","x":1556,"y":0.0168},{"p":"N4","s":"k","x":1550,"y":0.0148},{"p":"N4","s":"k","x":1546,"y":0.0139},{"p":"N4","s":"k","x":1540,"y":0.0128},{"p":"N4","s":"k","x":1534,"y":0.012},{"p":"N4","s":"k","x":1527,"y":0.0102},{"p":"N4","s":"k","x":1521,"y":0.0088},{"p":"N4","s":"k","x":1512,"y":0.0067},{"p":"N4","s":"k","x":1504,"y":0.0047},{"p":"N4","s":"k","x":1495,"y":0.0036},{"p":"N4","s":"k","x":1487,"y":0.0028},{"p":"N4","s":"k","x":1483,"y":0.0031},{"p":"N4","s":"k","x":1478,"y":0.0018},{"p":"N4","s":"k","x":1473,"y":0},
{"p":"N4","s":"o","x":1804,"y":0},{"p":"N4","s":"o","x":1797,"y":0.0008},{"p":"N4","s":"o","x":1790,"y":0.0018},{"p":"N4","s":"o","x":1783,"y":0.003},{"p":"N4","s":"o","x":1777,"y":0.0034},{"p":"N4","s":"o","x":1770,"y":0.003},{"p":"N4","s":"o","x":1763,"y":0.002},{"p":"N4","s":"o","x":1755,"y":0.001},{"p":"N4","s":"o","x":1746,"y":0.0002},{"p":"N4","s":"o","x":1740,"y":0},
{"p":"N4","s":"r","x":1810,"y":0.0003},{"p":"N4","s":"r","x":1802,"y":0.0007},{"p":"N4","s":"r","x":1795,"y":0.0012},{"p":"N4","s":"r","x":1787,"y":0.0026},{"p":"N4","s":"r","x":1779,"y":0.0047},{"p":"N4","s":"r","x":1768,"y":0.007},{"p":"N4","s":"r","x":1757,"y":0.0088},{"p":"N4","s":"r","x":1747,"y":0.0088},{"p":"N4","s":"r","x":1736,"y":0.0081},{"p":"N4","s":"r","x":1728,"y":0.0066},{"p":"N4","s":"r","x":1719,"y":0.0051},{"p":"N4","s":"r","x":1709,"y":0.0034},{"p":"N4","s":"r","x":1698,"y":0.0019},{"p":"N4","s":"r","x":1688,"y":0.0009},{"p":"N4","s":"r","x":1677,"y":0.0003},{"p":"N4","s":"r","x":1668,"y":0},
{"p":"N4","s":"b","x":1650,"y":0},{"p":"N4","s":"b","x":1642,"y":0.0006},{"p":"N4","s":"b","x":1633,"y":0.0017},{"p":"N4","s":"b","x":1625,"y":0.0035},{"p":"N4","s":"b","x":1618,"y":0.0056},{"p":"N4","s":"b","x":1610,"y":0.0088},{"p":"N4","s":"b","x":1603,"y":0.0116},{"p":"N4","s":"b","x":1596,"y":0.0125},{"p":"N4","s":"b","x":1591,"y":0.0127},{"p":"N4","s":"b","x":1585,"y":0.0119},{"p":"N4","s":"b","x":1580,"y":0.0102},{"p":"N4","s":"b","x":1574,"y":0.0083},{"p":"N4","s":"b","x":1568,"y":0.0065},{"p":"N4","s":"b","x":1563,"y":0.0042},{"p":"N4","s":"b","x":1559,"y":0.0024},{"p":"N4","s":"b","x":1553,"y":0.0012},{"p":"N4","s":"b","x":1546,"y":0.0005},{"p":"N4","s":"b","x":1540,"y":0.0001},{"p":"N4","s":"b","x":1534,"y":0},
{"p":"N4","s":"m","x":1655,"y":0},{"p":"N4","s":"m","x":1645,"y":0.0008},{"p":"N4","s":"m","x":1635,"y":0.0022},{"p":"N4","s":"m","x":1627,"y":0.0046},{"p":"N4","s":"m","x":1618,"y":0.0084},{"p":"N4","s":"m","x":1610,"y":0.0115},{"p":"N4","s":"m","x":1601,"y":0.0143},{"p":"N4","s":"m","x":1592,"y":0.0162},{"p":"N4","s":"m","x":1584,"y":0.0171},{"p":"N4","s":"m","x":1576,"y":0.0174},{"p":"N4","s":"m","x":1568,"y":0.0171},{"p":"N4","s":"m","x":1560,"y":0.0157},{"p":"N4","s":"m","x":1551,"y":0.0134},{"p":"N4","s":"m","x":1543,"y":0.011},{"p":"N4","s":"m","x":1534,"y":0.0084},{"p":"N4","s":"m","x":1526,"y":0.0055},{"p":"N4","s":"m","x":1517,"y":0.0028},{"p":"N4","s":"m","x":1509,"y":0.0012},{"p":"N4","s":"m","x":1500,"y":0.0003},{"p":"N4","s":"m","x":1492,"y":0},
{"p":"N4","s":"c","x":1580,"y":0},{"p":"N4","s":"c","x":1566,"y":0.0003},{"p":"N4","s":"c","x":1551,"y":0.001},{"p":"N4","s":"c","x":1542,"y":0.0019},{"p":"N4","s":"c","x":1534,"y":0.0028},{"p":"N4","s":"c","x":1525,"y":0.0036},{"p":"N4","s":"c","x":1517,"y":0.0039},{"p":"N4","s":"c","x":1509,"y":0.0035},{"p":"N4","s":"c","x":1500,"y":0.0024},{"p":"N4","s":"c","x":1492,"y":0.0012},{"p":"N4","s":"c","x":1485,"y":0.0003},{"p":"N4","s":"c","x":1480,"y":0},
{"p":"N4","s":"g","x":1490,"y":0},{"p":"N4","s":"g","x":1485,"y":0.0008},{"p":"N4","s":"g","x":1481,"y":0.0017},{"p":"N4","s":"g","x":1477,"y":0.0008},{"p":"N4","s":"g","x":1474,"y":0},
{"p":"A1","k":"n","s":"o","x":1751,"y":0.0083,"t":"Lactone\nC=O"},
{"p":"A1","k":"n","s":"b","x":1610,"y":0.0162,"t":"Conjugated\nAromatic"},
{"p":"A1","k":"n","s":"m","x":1487,"y":0.0093,"t":"Aromatic"},
{"p":"A2","k":"n","s":"y","x":1665,"y":0.006,"t":"Pyrone\nC=O"},
{"p":"A2","k":"n","s":"c","x":1492,"y":0.0115,"t":"Quinone"},
{"p":"A3","k":"n","s":"r","x":1689,"y":0.0092,"t":"Carboxylic\nAcid C=O"},
{"p":"A4","k":"n","s":"g","x":1449,"y":0.0097,"t":"Carboxyl-\nCarbonate"},
{"p":"A1","k":"t","x":1740,"y":0.0271,"t":"A1"},
{"p":"A2","k":"t","x":1746,"y":0.0269,"t":"A2"},
{"p":"A3","k":"t","x":1747,"y":0.0267,"t":"A3"},
{"p":"A4","k":"t","x":1744,"y":0.0275,"t":"A4"},
{"p":"N1","k":"t","x":1741,"y":0.0256,"t":"N1"},
{"p":"N2","k":"t","x":1741,"y":0.026,"t":"N2"},
{"p":"N3","k":"t","x":1736,"y":0.0259,"t":"N3"},
{"p":"N4","k":"t","x":1749,"y":0.0256,"t":"N4"},
{"p":"A1","k":"b","x":1915,"y":0.03065,"t":"1"},
{"p":"N1","k":"b","x":1918,"y":0.0302,"t":"2"}
]},
"facet":{"field":"p","type":"nominal","title":null,"header":{"labels":false,"labelExpr":"''","labelPadding":0,"labelFontSize":1}},
"columns":4,
"spacing":{"row":72,"column":13},
"bounds":"flush",
"resolve":{"axis":{"x":"independent"}},
"spec":{
"width":266,"height":216,
"encoding":{
"x":{"field":"x","type":"quantitative","title":"Wavenumber (cm⁻¹)","scale":{"domain":[1470,1813],"reverse":true,"nice":false,"zero":false},
"axis":{"values":[1802,1768,1734,1700,1666,1632,1598,1564,1530,1496],"format":"d","labelExpr":"(datum.value-1496)%68==0 ? datum.label : ''","tickSize":{"condition":{"test":"(datum.value-1496)%68==0","value":5},"value":3},"labelFlush":false,"labelOverlap":false,"labelPadding":1,"titlePadding":4}},
"y":{"field":"y","type":"quantitative","title":"Kubelka-Munk","scale":{"domain":[0,0.03],"nice":false},
"axis":{"values":[0,0.0025,0.005,0.0075,0.01,0.0125,0.015,0.0175,0.02,0.0225,0.025,0.0275,0.03],"labelExpr":"round(datum.value*10000)%50==0 ? format(datum.value,'.3f') : ''","tickSize":{"condition":{"test":"round(datum.value*10000)%50==0","value":5},"value":3},"labelPadding":2,"labelOverlap":false,"labelFlush":false,"titlePadding":6}}
},
"layer":[
{"transform":[{"filter":"!datum.k && datum.s!='k' && datum.s!='b'"}],
"mark":{"type":"line","strokeWidth":2.2,"interpolate":"monotone"},
"encoding":{
"color":{"field":"s","type":"nominal","legend":null,"scale":{"domain":["o","r","y","m","c","g","h","b","k"],"range":["#ff8000","#ff0000","#808080","#ff00ff","#00ffff","#008000","#008000","#0000ff","#000000"]}},
"strokeDash":{"field":"s","type":"nominal","legend":null,"scale":{"domain":["o","r","y","m","c","g","h"],"range":[[11,6],[11,4,3,4],[1,0],[6,3.5],[1,0],[1,0],[1,0]]}}}},
{"transform":[{"filter":"!datum.k && datum.s=='b'"}],
"mark":{"type":"line","strokeWidth":3,"color":"#0000ff","strokeDash":[3,6.5],"interpolate":"monotone"}},
{"transform":[{"filter":"!datum.k && datum.s=='k'"}],
"mark":{"type":"line","strokeWidth":1.1,"color":"#000000","interpolate":"monotone"}},
{"transform":[{"filter":"datum.k=='n'"}],
"mark":{"type":"text","fontSize":19,"lineBreak":"\n","lineHeight":23,"align":"center","baseline":"middle"},
"encoding":{"text":{"field":"t"},
"color":{"field":"s","type":"nominal","legend":null,"scale":{"domain":["o","r","y","m","c","g","h","b","k"],"range":["#ff8000","#ff0000","#808080","#ff00ff","#00ffff","#008000","#008000","#0000ff","#000000"]}}}},
{"transform":[{"filter":"datum.k=='t'"}],
"mark":{"type":"text","fontSize":32,"align":"center","baseline":"middle","color":"#000000"},
"encoding":{"text":{"field":"t"}}},
{"transform":[{"filter":"datum.k=='b'"}],
"mark":{"type":"text","fontSize":36,"align":"center","baseline":"middle","color":"#000000","dy":1},
"encoding":{"text":{"field":"t"}}},
{"transform":[{"filter":"datum.k=='b'"}],
"mark":{"type":"point","shape":"M-0.49,-1H0.49V1H-0.49Z","size":2916,"filled":false,"color":"#000000","strokeWidth":1,"opacity":1}}
]},
"config":{"font":"Liberation Sans","view":{"stroke":null},
"header":{"labels":false},
"headerFacet":{"labels":false},
"headerColumn":{"labels":false},
"headerRow":{"labels":false},
"axis":{"labelFont":"Liberation Sans","titleFont":"Liberation Sans","labelFontSize":19,"titleFontSize":19,"titleFontWeight":"normal","labelColor":"#000000","titleColor":"#000000","domainColor":"#000000","tickColor":"#000000","grid":false,"domainWidth":1,"tickWidth":1},
"text":{"font":"Liberation Sans"}}
}
